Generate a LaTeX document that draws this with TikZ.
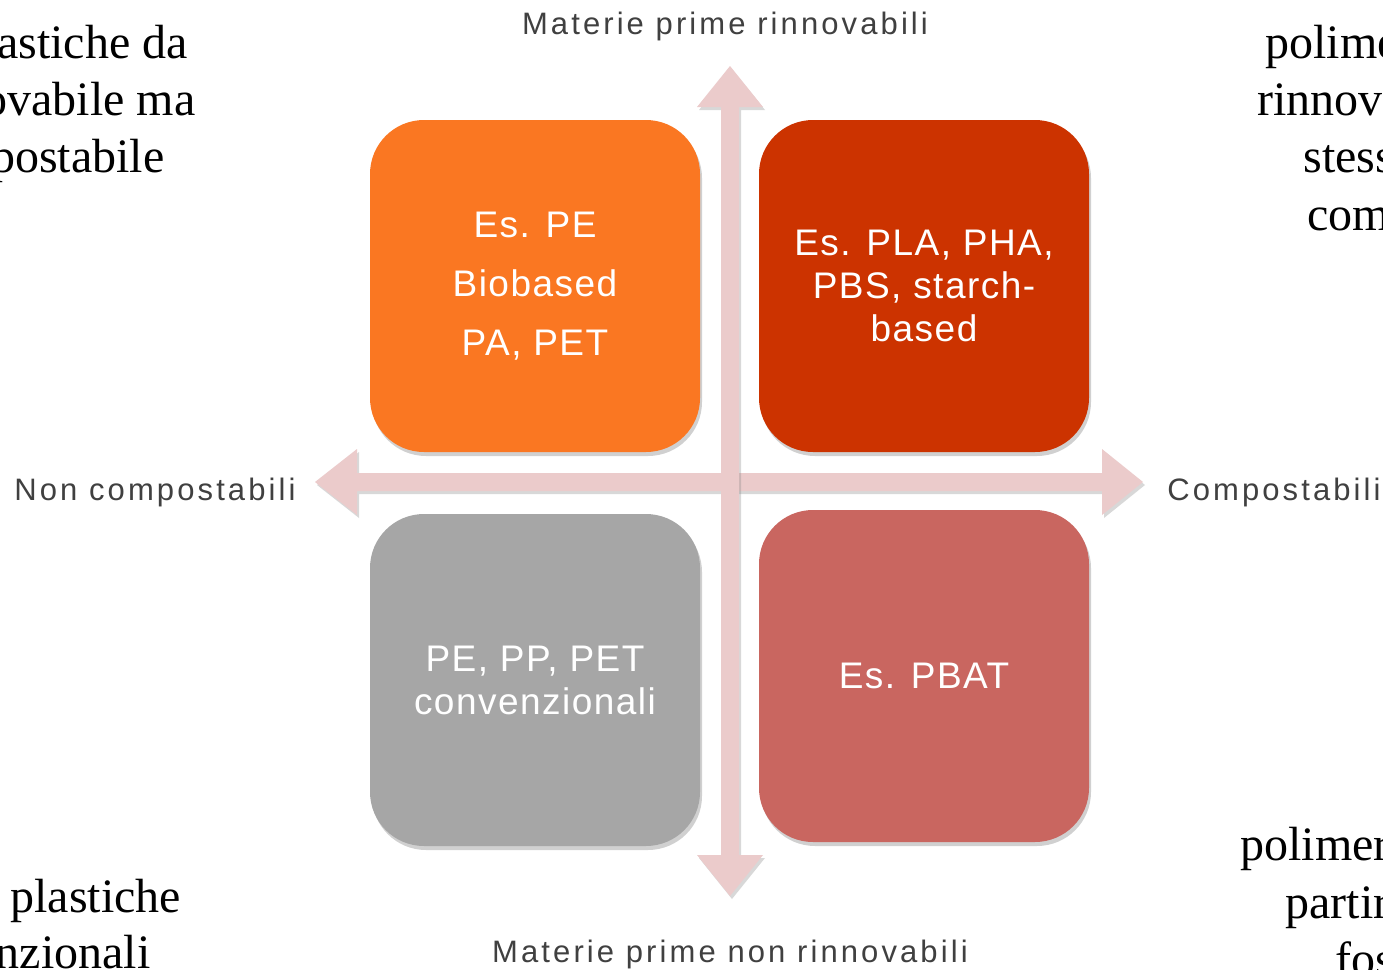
\documentclass[tikz,border=0pt]{standalone}
\usepackage{fontspec}
\setmainfont{Liberation Serif}
\newfontfamily\lblfont[LetterSpace=10]{Liberation Sans}
\newfontfamily\boxfont[LetterSpace=4]{Liberation Sans}
\usetikzlibrary{shadows}
\definecolor{arrowc}{HTML}{EBCBCB}
\definecolor{cOrange}{HTML}{FA7722}
\definecolor{cRed}{HTML}{CC3300}
\definecolor{cGray}{HTML}{A6A6A6}
\definecolor{cRose}{HTML}{C96660}
\definecolor{lblc}{HTML}{404040}
\tikzset{
  quad/.style={rounded corners=27pt, minimum width=165pt, minimum height=166pt,
    inner sep=0pt, align=center, text=white, font=\boxfont\fontsize{18.5}{21.5}\selectfont,
    drop shadow={shadow xshift=1pt, shadow yshift=-2pt, opacity=0.3, fill=black!60}},
  axislbl/.style={text=lblc, font=\lblfont\fontsize{15.5}{18}\selectfont, inner sep=0pt},
  serifbg/.style={text=black, font=\fontsize{24}{28.5}\selectfont, inner sep=0pt},
  blockarrow/.style={fill=arrowc, drop shadow={shadow xshift=1pt, shadow yshift=-1.5pt, opacity=0.3, fill=black!50}}
}
\begin{document}
\begin{tikzpicture}[x=0.5pt, y=-0.5pt]
\path[use as bounding box] (0,0) rectangle (1383,970);
\clip (0,0) rectangle (1383,970);
\fill[white] (0,0) rectangle (1383,970);

% boxes
\node[quad, fill=cOrange] (tl) at (535,286) {Es. PE\\[8pt]Biobased\\[8pt]PA, PET};
\node[quad, fill=cRed] (tr) at (924,286) {Es. PLA, PHA,\\PBS, starch-\\based};
\node[quad, fill=cGray] (bl) at (535,680) {PE, PP, PET\\convenzionali};
\node[quad, fill=cRose] (br) at (924,676) {Es. PBAT};

% block arrows
\fill[blockarrow] (315,482) -- (357,449) -- (357,473) -- (1102,473) -- (1102,449) -- (1143,482)
  -- (1102,515) -- (1102,491) -- (357,491) -- (357,515) -- cycle;
\fill[blockarrow] (730,66) -- (763,107) -- (739,107) -- (739,855) -- (763,855) -- (730,896)
  -- (697,855) -- (721,855) -- (721,107) -- (697,107) -- cycle;

% axis labels
\node[axislbl, anchor=base] (top) at (725,34) {Materie prime rinnovabili};
\node[axislbl, anchor=base] (bot) at (730,962) {Materie prime non rinnovabili};
\node[axislbl, anchor=base west] (left) at (14,500) {Non compostabili};
\node[axislbl, anchor=base east] (right) at (1381,500) {Compostabili};

% cropped serif texts
\node[serifbg, anchor=base east] (tl1) at (188,58) {astiche da};
\node[serifbg, anchor=base east] (tl2) at (196,115) {ovabile ma};
\node[serifbg, anchor=base east] (tl3) at (165,172) {postabile};

\node[serifbg, anchor=base west] (tr1) at (1265,58) {polime};
\node[serifbg, anchor=base west] (tr2) at (1257,115) {rinnov};
\node[serifbg, anchor=base west] (tr3) at (1303,172) {stess};
\node[serifbg, anchor=base west] (tr4) at (1307,230) {com};

\node[serifbg, anchor=base west] (bl1) at (10,912) {plastiche};
\node[serifbg, anchor=base east] (bl2) at (151,968) {nzionali};

\node[serifbg, anchor=base west] (br1) at (1240,860) {polimer};
\node[serifbg, anchor=base west] (br2) at (1285,918) {partir};
\node[serifbg, anchor=base west] (br3) at (1335,975) {fos};
\end{tikzpicture}
\end{document}
